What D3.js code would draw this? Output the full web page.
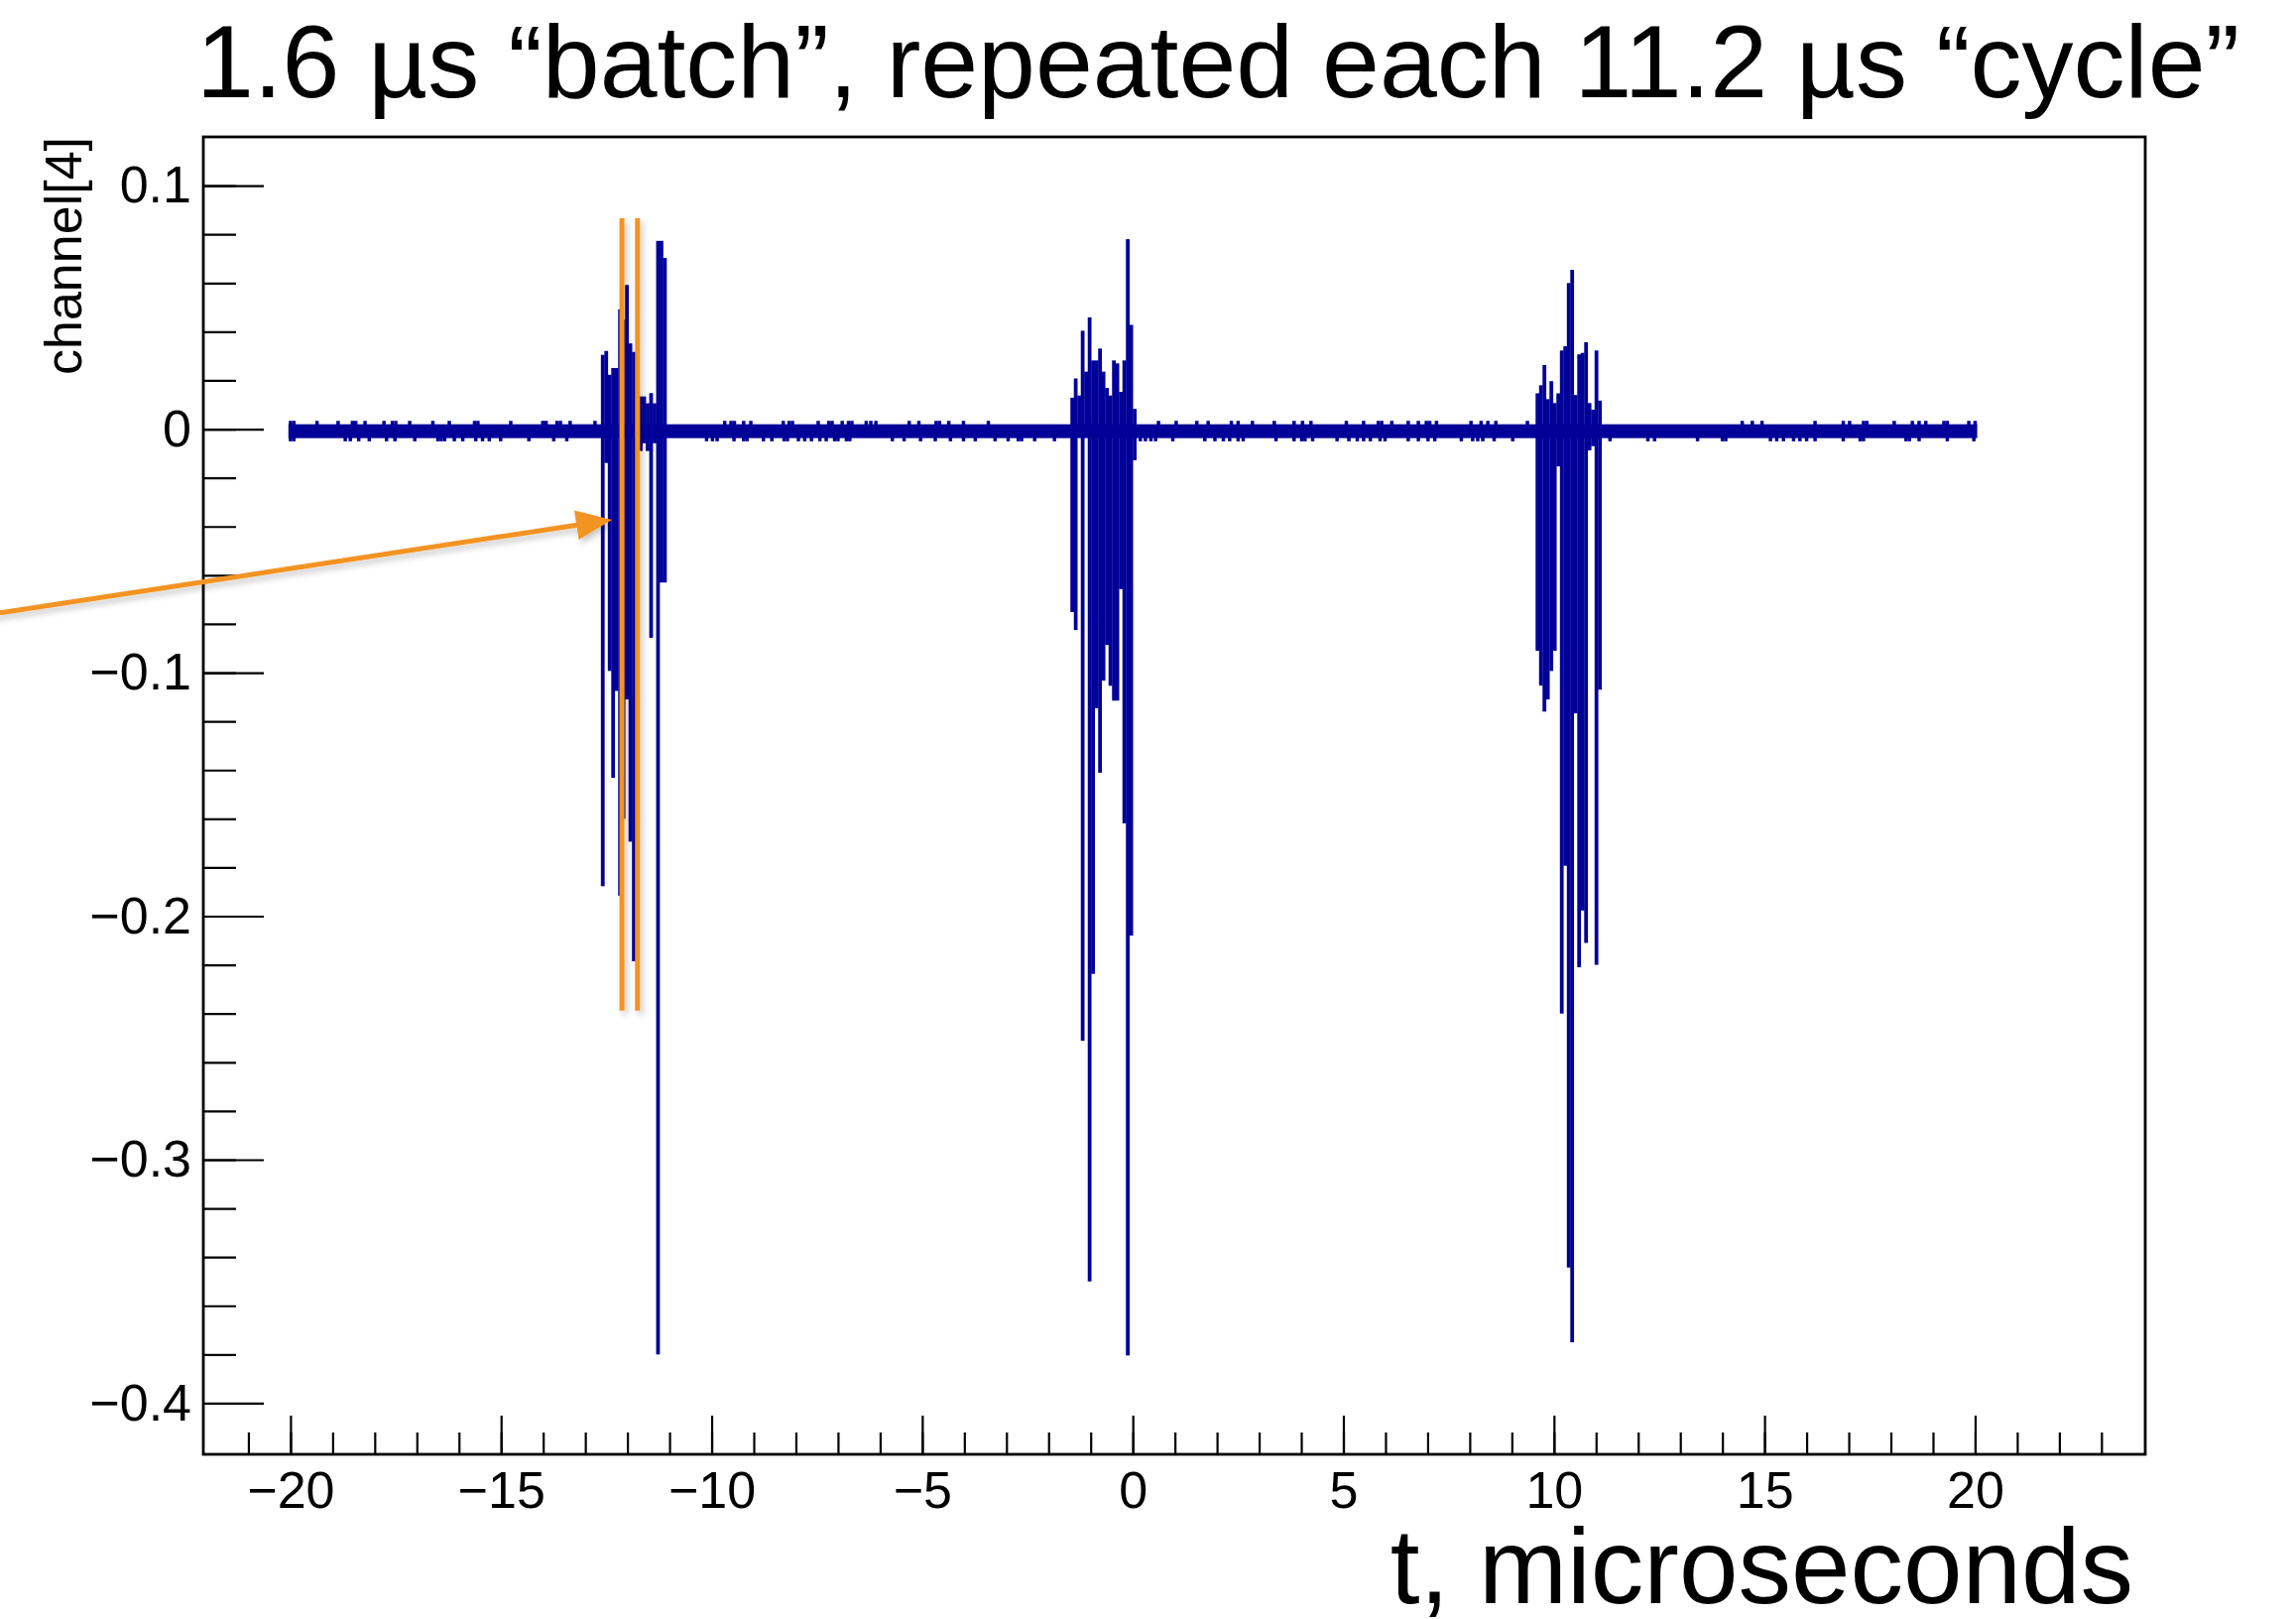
<!DOCTYPE html>
<html>
<head>
<meta charset="utf-8">
<script src="https://cdn.jsdelivr.net/npm/d3@7"></script>
<style>
  body { margin: 0; background: #fff; }
  text { font-family: "Liberation Sans", Arial, Helvetica, sans-serif; }
</style>
</head>
<body>
<script>
// chart values (t in microseconds, channel[4] in volts)
const BIN = 0.082;                       // width of one trace column
const TRACE_RANGE = [-20.05, 20.05];
const BASE_BAND = [-0.0037, 0.0020];     // quiet baseline envelope
const BLIP_HI = 0.0034;
const BLIP_LO = -0.0050;

// small baseline excursions above / below the quiet band
const blipsUp = [-20.0, -19.92, -19.37, -18.87, -18.53, -18.45, -18.23, -17.78, -17.58, -17.50, -17.17,
  -16.62, -16.23, -15.63, -15.55, -14.77, -14.01, -13.93, -13.67, -13.59, -13.36, -12.77,
  -9.69, -9.54, -9.46, -9.24, -9.07, -8.30, -8.16, -8.08, -7.47, -7.22, -7.14, -6.90, -6.75, -6.67,
  -6.33, -6.22, -6.10, -5.31, -5.08, -4.67, -4.59, -4.37, -4.02, -3.43,
  0.61, 1.03, 1.52, 1.79, 2.34, 2.50, 2.84, 3.36, 3.83, 4.03, 4.23, 5.07, 5.48, 5.83, 5.91, 6.15,
  6.54, 6.78, 6.97, 7.05, 7.21, 8.03, 8.27, 8.43, 8.62, 9.37,
  14.47, 14.71, 14.94, 16.20, 16.87, 17.02, 17.35, 17.43, 18.08, 18.51, 18.67, 18.83, 19.26, 19.34,
  19.85, 20.00];
const blipsDown = [-20.0, -19.92, -18.70, -18.58, -18.38, -18.13, -17.72, -17.52, -17.05, -16.50, -16.42,
  -16.34, -16.11, -15.91, -15.60, -15.44, -15.28, -15.01, -14.34, -13.75, -13.44,
  -10.12, -9.98, -9.87, -9.47, -9.24, -9.16, -8.77, -8.57, -8.28, -8.20, -7.94, -7.79, -7.63,
  -7.43, -7.28, -7.08, -7.00, -6.80, -6.72, -5.71, -5.43, -5.04, -4.69, -4.33, -4.02, -3.74,
  -3.27, -2.96, -2.72, -2.64, -2.33, -1.86,
  0.18, 0.30, 0.43, 0.54, 0.95, 1.71, 1.95, 2.15, 2.30, 2.50, 2.62, 3.40, 3.83, 4.01, 4.09, 4.27,
  4.85, 5.13, 5.33, 5.48, 5.64, 5.87, 5.99, 6.54, 6.78, 7.01, 7.17, 7.80, 8.07, 8.19, 8.31, 8.58,
  9.02, 11.33, 12.23, 12.39, 13.41, 14.00, 14.08, 15.14, 15.29, 15.45, 15.69, 15.84, 16.00,
  16.20, 16.87, 17.27, 17.35, 18.36, 18.44, 18.67, 19.34, 19.97];

// batch 1: [t, min, max]
const batch1 = [
  [-12.630, -0.1877, 0.0305], [-12.548, -0.0139, 0.0321], [-12.466, -0.0993, 0.0223],
  [-12.384, -0.1432, 0.0251], [-12.302, -0.1075, 0.0251], [-12.220, -0.1916, 0.0492],
  [-12.138, -0.1600, 0.0450], [-12.056, -0.1110, 0.0592], [-11.974, -0.1694, 0.0352],
  [-11.892, -0.2185, 0.0317], [-11.810, -0.2100, 0.0200], [-11.728, -0.0090, 0.0134],
  [-11.646, -0.0058, 0.0134], [-11.564, -0.0090, 0.0106], [-11.482, -0.0857, 0.0148],
  [-11.400, -0.0058, 0.0106], [-11.318, -0.3800, 0.0773], [-11.236, -0.0630, 0.0773],
  [-11.154, -0.0630, 0.0703]
];
// batch 2
const batch2 = [
  [-1.482, -0.0751, 0.0129], [-1.400, -0.0825, 0.0208], [-1.317, -0.0030, 0.0138],
  [-1.235, -0.2512, 0.0404], [-1.152, -0.0030, 0.0236], [-1.070, -0.3500, 0.0459],
  [-0.988, -0.2237, 0.0282], [-0.905, -0.1146, 0.0282], [-0.823, -0.1411, 0.0331],
  [-0.740, -0.1033, 0.0236], [-0.658, -0.0886, 0.0169], [-0.576, -0.1054, 0.0138],
  [-0.493, -0.1115, 0.0282], [-0.411, -0.1115, 0.0270], [-0.328, -0.0657, 0.0153],
  [-0.246, -0.1619, 0.0282], [-0.164, -0.3804, 0.0780], [-0.081, -0.2080, 0.0428],
  [0.001, -0.0128, 0.0083]
];
// batch 3
const batch3 = [
  [9.564, -0.0910, 0.0147], [9.646, -0.1053, 0.0180], [9.729, -0.1160, 0.0263],
  [9.811, -0.1110, 0.0123], [9.894, -0.0993, 0.0197], [9.976, -0.0910, 0.0107],
  [10.058, -0.0153, 0.0147], [10.141, -0.2400, 0.0323], [10.223, -0.1793, 0.0340],
  [10.306, -0.3443, 0.0600], [10.388, -0.3750, 0.0654], [10.470, -0.1167, 0.0140],
  [10.553, -0.2210, 0.0307], [10.635, -0.1977, 0.0313], [10.718, -0.2110, 0.0357],
  [10.800, -0.0087, 0.0107], [10.882, -0.0070, 0.0080], [10.965, -0.2200, 0.0323],
  [11.047, -0.1070, 0.0117]
];

const xMajor = [-20, -15, -10, -5, 0, 5, 10, 15, 20];
const xMinor = d3.range(-21, 24);
const yMajor = [-0.4, -0.3, -0.2, -0.1, 0, 0.1];
const yMinor = d3.range(-19, 6).map(i => i * 0.02);

const TITLE = "1.6 \u00b5s \u201cbatch\u201d, repeated each 11.2 \u00b5s \u201ccycle\u201d";
const X_TITLE = "t, microseconds";
const Y_TITLE = "channel[4]";

// orange annotation (data units)
const markerT = [-12.13, -11.76];
const markerV = [0.0866, -0.2388];
const arrowFrom = [-27.5, -0.077];
const arrowTo = [-12.37, -0.0372];

// layout
const W = 2315, H = 1632;
const frame = { left: 205, right: 2163, top: 138, bottom: 1466 };
const TRACE = "#000099";
const ORANGE = "#F39322";

const svg = d3.select("body").append("svg")
    .attr("width", W)
    .attr("height", H);

const defs = svg.append("defs");
defs.append("filter").attr("id", "shadow")
    .attr("x", "-50%").attr("y", "-50%").attr("width", "200%").attr("height", "200%")
  .append("feDropShadow")
    .attr("dx", 3).attr("dy", 4).attr("stdDeviation", 3)
    .attr("flood-color", "#000").attr("flood-opacity", 0.22);

const x = d3.scaleLinear().domain([-22.07, 24.04]).range([frame.left, frame.right]);
const y = d3.scaleLinear().domain([-0.421, 0.120]).range([frame.bottom, frame.top]);

// trace
const trace = svg.append("g").attr("fill", TRACE);

trace.append("rect")
    .attr("x", x(TRACE_RANGE[0]))
    .attr("width", x(TRACE_RANGE[1]) - x(TRACE_RANGE[0]))
    .attr("y", y(BASE_BAND[1]))
    .attr("height", y(BASE_BAND[0]) - y(BASE_BAND[1]));

trace.selectAll("rect.up").data(blipsUp).join("rect")
    .attr("class", "up")
    .attr("x", d => x(d - BIN / 2))
    .attr("width", x(BIN) - x(0))
    .attr("y", y(BLIP_HI))
    .attr("height", y(BASE_BAND[1]) - y(BLIP_HI) + 1);

trace.selectAll("rect.down").data(blipsDown).join("rect")
    .attr("class", "down")
    .attr("x", d => x(d - BIN / 2))
    .attr("width", x(BIN) - x(0))
    .attr("y", y(BASE_BAND[0]) - 1)
    .attr("height", y(BLIP_LO) - y(BASE_BAND[0]) + 1);

trace.selectAll("rect.col").data(batch1.concat(batch2, batch3)).join("rect")
    .attr("class", "col")
    .attr("x", d => x(d[0]))
    .attr("width", d => x(d[0] + BIN) - x(d[0]) + 0.3)
    .attr("y", d => y(d[2]))
    .attr("height", d => y(d[1]) - y(d[2]));

// axes: ticks drawn inward, like the ROOT frame
const fmtY = d => Math.abs(d) < 1e-9 ? "0" : d3.format(".1f")(d);

const xMinorAxis = svg.append("g")
    .attr("transform", `translate(0,${frame.bottom})`)
    .call(d3.axisBottom(x).tickValues(xMinor).tickSize(-22).tickFormat(""));
const xAxis = svg.append("g")
    .attr("transform", `translate(0,${frame.bottom})`)
    .call(d3.axisBottom(x).tickValues(xMajor).tickSize(-39).tickPadding(17).tickFormat(d3.format("d")));
const yMinorAxis = svg.append("g")
    .attr("transform", `translate(${frame.left},0)`)
    .call(d3.axisLeft(y).tickValues(yMinor).tickSize(-33).tickFormat(""));
const yAxis = svg.append("g")
    .attr("transform", `translate(${frame.left},0)`)
    .call(d3.axisLeft(y).tickValues(yMajor).tickSize(-61).tickPadding(12).tickFormat(fmtY));

[xMinorAxis, xAxis, yMinorAxis, yAxis].forEach(g => {
    g.select(".domain").remove();
    g.selectAll("line").attr("stroke", "#000").attr("stroke-width", 2.2);
    g.selectAll("text").attr("fill", "#000").attr("font-size", 52)
        .attr("font-family", "'Liberation Sans', Arial, Helvetica, sans-serif");
});

// frame
svg.append("rect")
    .attr("x", frame.left).attr("y", frame.top)
    .attr("width", frame.right - frame.left)
    .attr("height", frame.bottom - frame.top)
    .attr("fill", "none").attr("stroke", "#000").attr("stroke-width", 2.8);

// titles
svg.append("text")
    .attr("x", 1228).attr("y", 98)
    .attr("text-anchor", "middle")
    .attr("font-size", 104)
    .text(TITLE);

svg.append("text")
    .attr("x", 2151).attr("y", 1616)
    .attr("text-anchor", "end")
    .attr("font-size", 107)
    .text(X_TITLE);

svg.append("text")
    .attr("transform", `translate(82,${frame.top}) rotate(-90)`)
    .attr("text-anchor", "end")
    .attr("font-size", 52)
    .text(Y_TITLE);

// orange annotation
const note = svg.append("g").attr("filter", "url(#shadow)");

note.selectAll("line.marker").data(markerT).join("line")
    .attr("class", "marker")
    .attr("x1", d => x(d)).attr("x2", d => x(d))
    .attr("y1", y(markerV[0])).attr("y2", y(markerV[1]))
    .attr("stroke", ORANGE).attr("stroke-width", 5);

const ax0 = x(arrowFrom[0]), ay0 = y(arrowFrom[1]);
const ax1 = x(arrowTo[0]), ay1 = y(arrowTo[1]);
const ang = Math.atan2(ay1 - ay0, ax1 - ax0);
const headLen = 36, headHalf = 15;
const bx = ax1 - headLen * Math.cos(ang), by = ay1 - headLen * Math.sin(ang);

note.append("line")
    .attr("x1", ax0).attr("y1", ay0)
    .attr("x2", bx + 4 * Math.cos(ang)).attr("y2", by + 4 * Math.sin(ang))
    .attr("stroke", ORANGE).attr("stroke-width", 5);

note.append("path")
    .attr("d", d3.line()([
        [ax1, ay1],
        [bx - headHalf * Math.sin(ang), by + headHalf * Math.cos(ang)],
        [bx + headHalf * Math.sin(ang), by - headHalf * Math.cos(ang)]
    ]) + "Z")
    .attr("fill", ORANGE);
</script>
</body>
</html>
